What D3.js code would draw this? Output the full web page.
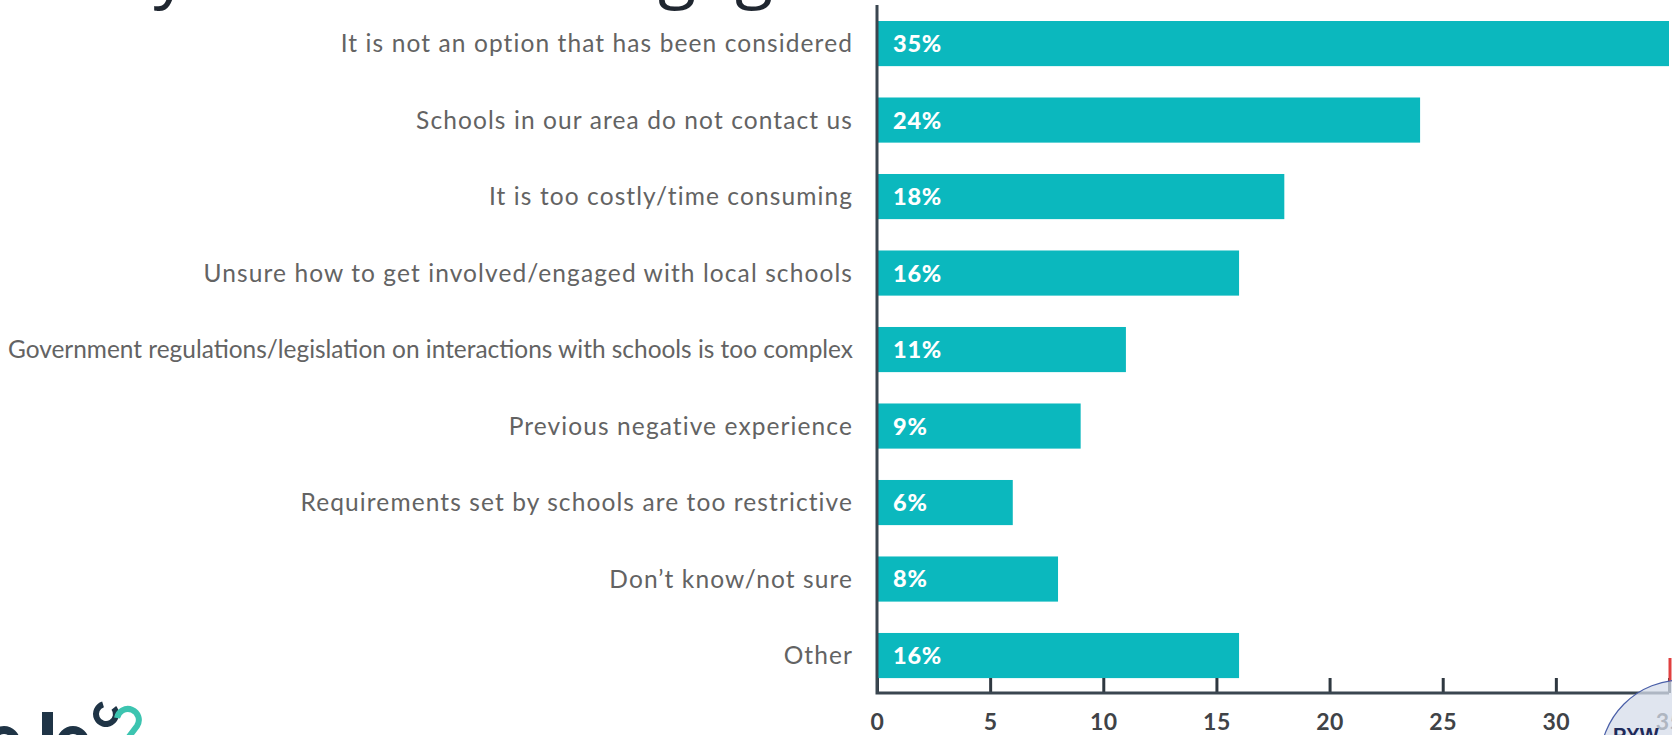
<!DOCTYPE html>
<html>
<head>
<meta charset="utf-8">
<script src="https://cdn.jsdelivr.net/npm/d3@7"></script>
<style>
  html, body { margin: 0; padding: 0; background: #fff; overflow: hidden; }
</style>
</head>
<body>
<script>
let width = 1672;
let height = 735;

// chart values
let categories = [
  "It is not an option that has been considered",
  "Schools in our area do not contact us",
  "It is too costly/time consuming",
  "Unsure how to get involved/engaged with local schools",
  "Government regulations/legislation on interactions with schools is too complex",
  "Previous negative experience",
  "Requirements set by schools are too restrictive",
  "Don\u2019t know/not sure",
  "Other"
];
let values = [35, 24, 18, 16, 11, 9, 6, 8, 16];
let tickValues = [0, 5, 10, 15, 20, 25, 30, 35];
let titleText = "Why firms don\u2019t engage with schools";

let svg = d3
  .select("body")
  .append("svg")
  .attr("width", width)
  .attr("height", height);

let x = d3.scaleLinear().domain([0, 35]).range([877, 1669]);
let y = d3
  .scaleBand()
  .domain(categories)
  .range([5.7, 693.4])
  .paddingInner(0.41)
  .paddingOuter(0.2);

let rows = categories.map((c, i) => ({ cat: c, val: values[i] }));

// title, mostly cut off by the top edge (only descenders show)
svg
  .append("text")
  .attr("x", 46)
  .attr("y", -6)
  .attr("font-family", "Open Sans")
  .attr("font-size", 70)
  .attr("fill", "#1f2630")
  .text(titleText);

// bars
svg
  .append("g")
  .selectAll("rect")
  .data(rows)
  .enter()
  .append("rect")
  .attr("x", x(0))
  .attr("y", (d) => y(d.cat))
  .attr("width", (d) => x(d.val) - x(0))
  .attr("height", y.bandwidth())
  .attr("fill", "#0bb8be");

// value labels inside bars
svg
  .append("g")
  .selectAll("text")
  .data(rows)
  .enter()
  .append("text")
  .attr("x", x(0) + 16)
  .attr("y", (d) => y(d.cat) + y.bandwidth() / 2)
  .attr("dy", "0.36em")
  .attr("font-family", "Lato")
  .attr("font-weight", 900)
  .attr("font-size", 23.5)
  .attr("letter-spacing", 0.8)
  .attr("fill", "#fff")
  .text((d) => d.val + "%");

// category labels; the longest one gets squeezed to fit like in the source
let maxLabelWidth = 845;
svg
  .append("g")
  .selectAll("text")
  .data(rows)
  .enter()
  .append("text")
  .attr("x", 853)
  .attr("y", (d) => y(d.cat) + y.bandwidth() / 2)
  .attr("dy", "0.36em")
  .attr("text-anchor", "end")
  .attr("font-family", "Lato")
  .attr("font-size", 24.5)
  .attr("letter-spacing", 1.1)
  .attr("fill", "#636363")
  .text((d) => d.cat)
  .each(function () {
    let w = this.getComputedTextLength();
    if (w > maxLabelWidth) {
      d3.select(this)
        .attr("letter-spacing", 0)
        .attr("textLength", maxLabelWidth)
        .attr("lengthAdjust", "spacingAndGlyphs");
    }
  });

// x axis, ticks pointing up
let xAxis = svg
  .append("g")
  .attr("transform", "translate(0,693)")
  .call(
    d3.axisBottom(x).tickValues(tickValues).tickSizeInner(-15).tickSizeOuter(0).tickPadding(21)
  );
xAxis.select(".domain").remove();
xAxis.selectAll(".tick line").attr("stroke", "#2f3840").attr("stroke-width", 3);
xAxis
  .selectAll(".tick text")
  .attr("font-family", "Lato")
  .attr("font-weight", 700)
  .attr("font-size", 23)
  .attr("letter-spacing", 0.5)
  .attr("fill", "#3f4347");

// axis lines
svg
  .append("path")
  .attr("d", `M${x(0)},5V693H${x(35)}`)
  .attr("fill", "none")
  .attr("stroke", "#3a4650")
  .attr("stroke-width", 3);

// logo bits, bottom left
let logo = svg.append("g");
logo.append("circle").attr("cx", 4).attr("cy", 742).attr("r", 12).attr("fill", "none").attr("stroke", "#1f3446").attr("stroke-width", 8);
logo.append("rect").attr("x", 42).attr("y", 712).attr("width", 11).attr("height", 30).attr("fill", "#1f3446");
logo.append("circle").attr("cx", 73).attr("cy", 742).attr("r", 12).attr("fill", "none").attr("stroke", "#1f3446").attr("stroke-width", 8);
logo
  .append("path")
  .attr("d", d3.arc()({ innerRadius: 7, outerRadius: 13, startAngle: 0.9, endAngle: 2 * Math.PI - 0.3 }))
  .attr("transform", "translate(106,714)")
  .attr("fill", "#1f3446");
logo
  .append("path")
  .attr("d", "M117,718 A11 11 0 1 1 137,726 L128,738")
  .attr("fill", "none")
  .attr("stroke", "#3cc4b0")
  .attr("stroke-width", 6);

// badge, bottom right
let badge = svg.append("g");
badge.append("line").attr("x1", 1670).attr("x2", 1670).attr("y1", 658).attr("y2", 682).attr("stroke", "#e04040").attr("stroke-width", 3);
badge.append("circle").attr("cx", 1682).attr("cy", 762).attr("r", 82).attr("fill", "rgba(214,220,234,0.75)").attr("stroke", "#4a5fa8").attr("stroke-width", 1.2);
badge.append("text").attr("x", 1613).attr("y", 742).attr("font-family", "Liberation Sans").attr("font-weight", 700).attr("font-size", 20).attr("fill", "#1e2a5a").text("PYW");
</script>
</body>
</html>
